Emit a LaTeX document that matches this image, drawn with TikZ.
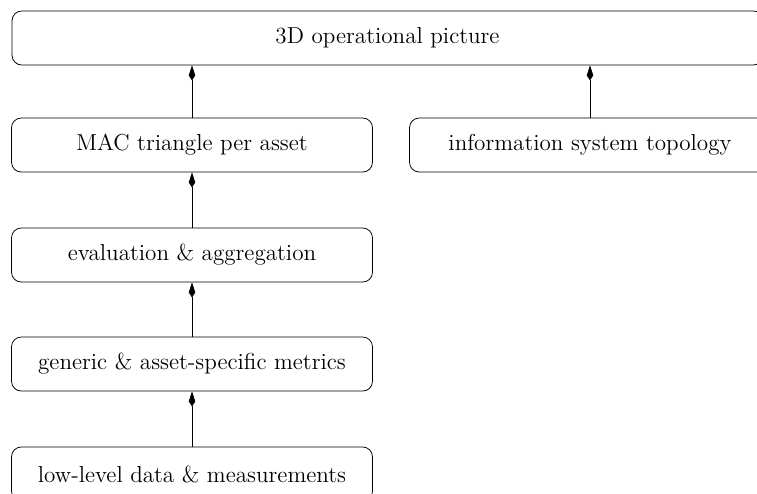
\documentclass[tikz,border=0pt]{standalone}
\usetikzlibrary{arrows.meta}
\begin{document}
\begin{tikzpicture}[x=0.5195pt,y=-0.5195pt,
  box/.style={draw, rounded corners=5pt, minimum height=28.05pt, inner sep=0pt, font=\large},
  conn/.style={-{Kite[length=7.8pt,width=3.4pt,inset=2.6pt]}}]
\useasboundingbox (0,0) rectangle (757,493);
\node[box, minimum width=390.1pt] (top) at (387.5,38) {3D operational picture};
\node[box, minimum width=187.5pt] (mac) at (192,145) {MAC triangle per asset};
\node[box, minimum width=187.5pt] (info) at (590,145) {information system topology};
\node[box, minimum width=187.5pt] (eval) at (192,255) {evaluation \& aggregation};
\node[box, minimum width=187.5pt] (gen) at (192,364) {generic \& asset-specific metrics};
\node[box, minimum width=187.5pt] (low) at (192,474) {low-level data \& measurements};
\draw[conn] (low.north) -- (gen.south);
\draw[conn] (gen.north) -- (eval.south);
\draw[conn] (eval.north) -- (mac.south);
\draw[conn] (mac.north) -- (mac.north |- top.south);
\draw[conn] (info.north) -- (info.north |- top.south);
\end{tikzpicture}
\end{document}
